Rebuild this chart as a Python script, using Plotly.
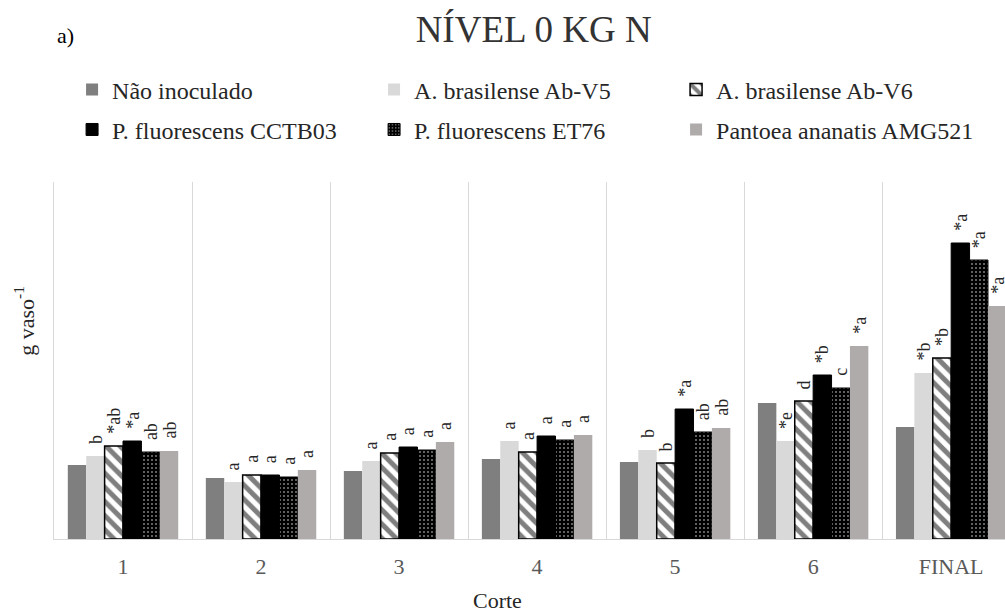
import plotly.graph_objects as go

# Cutting events (x categories)
cortes = ["1", "2", "3", "4", "5", "6", "FINAL"]

# Dry mass per treatment and cut (g vaso^-1)
nao_inoculado = [7.4, 6.1, 6.8, 8.0, 7.7, 13.6, 11.2]
ab_v5 = [8.3, 5.7, 7.8, 9.8, 8.9, 9.8, 16.6]
ab_v6 = [9.3, 6.4, 8.6, 8.7, 7.6, 13.8, 18.1]
cctb03 = [9.8, 6.4, 9.2, 10.3, 13.0, 16.4, 29.6]
et76 = [8.7, 6.2, 8.9, 9.9, 10.7, 15.1, 27.9]
amg521 = [8.8, 6.9, 9.7, 10.4, 11.1, 19.3, 23.3]

# Significance letters for each bar
lbl_nao = ["", "", "", "", "", "", ""]
lbl_v5 = ["b", "a", "a", "a", "b", "*e", "*b"]
lbl_v6 = ["*ab", "a", "a", "a", "b", "d", "*b"]
lbl_cctb03 = ["*a", "a", "a", "a", "*a", "*b", "*a"]
lbl_et76 = ["ab", "a", "a", "a", "ab", "c", "*a"]
lbl_amg521 = ["ab", "a", "a", "a", "ab", "*a", "*a"]

SERIF = "Liberation Serif"
GRID = "#d9d9d9"
BARGAP = 0.2

series = [
    ("Não inoculado", nao_inoculado, lbl_nao,
     dict(color="#7f7f7f", line=dict(width=0)), "legend"),
    ("A. brasilense Ab-V5", ab_v5, lbl_v5,
     dict(color="#d9d9d9", line=dict(width=0)), "legend"),
    ("A. brasilense Ab-V6", ab_v6, lbl_v6,
     dict(color="white", line=dict(color="black", width=1.5),
          pattern=dict(shape="\\", fgcolor="black", bgcolor="white",
                       size=10, solidity=0.5, fillmode="overlay")), "legend"),
    ("P. fluorescens CCTB03", cctb03, lbl_cctb03,
     dict(color="black", line=dict(color="black", width=1)), "legend2"),
    ("P. fluorescens ET76", et76, lbl_et76,
     dict(color="black", line=dict(color="black", width=1),
          pattern=dict(shape=".", fgcolor="white", bgcolor="black",
                       size=4, solidity=0.2, fillmode="overlay")), "legend2"),
    ("Pantoea ananatis AMG521", amg521, lbl_amg521,
     dict(color="#afabab", line=dict(width=0)), "legend2"),
]

fig = go.Figure()
n = len(series)
bar_w = (1 - BARGAP) / n
annotations = []
for j, (name, vals, lbls, marker, leg) in enumerate(series):
    fig.add_trace(go.Bar(x=cortes, y=vals, name=name, marker=marker,
                         legend=leg, hoverinfo="x+y+name"))
    for i, (v, t) in enumerate(zip(vals, lbls)):
        if not t:
            continue
        annotations.append(dict(
            x=i - (1 - BARGAP) / 2 + (j + 0.5) * bar_w, y=v,
            xref="x", yref="y", text=t, showarrow=False,
            textangle=-90, xanchor="center", yanchor="bottom", yshift=10,
            font=dict(family=SERIF, size=18, color="#262626")))

# Panel tag, axis titles
annotations += [
    dict(text="a)", xref="paper", yref="paper", x=0.0116, y=1.41,
         xanchor="center", yanchor="middle", showarrow=False,
         font=dict(family=SERIF, size=22, color="black")),
    dict(text="Corte", xref="paper", yref="paper", x=0.466, y=-0.172,
         xanchor="center", yanchor="middle", showarrow=False,
         font=dict(family=SERIF, size=22, color="#262626")),
    dict(text="g vaso<sup>-1</sup>", xref="paper", yref="paper", x=-0.031, y=0.61,
         xanchor="center", yanchor="middle", textangle=-90, showarrow=False,
         font=dict(family=SERIF, size=22, color="#262626")),
]

legend_style = dict(orientation="h", xanchor="left", yanchor="middle",
                    entrywidth=257, entrywidthmode="pixels",
                    font=dict(family=SERIF, size=24, color="#262626"),
                    bgcolor="rgba(0,0,0,0)", traceorder="normal")

fig.update_layout(
    width=1005, height=614,
    margin=dict(l=54, r=0, t=182, b=75, autoexpand=False),
    font=dict(family=SERIF, color="#262626"),
    paper_bgcolor="white", plot_bgcolor="white",
    barmode="group", bargap=BARGAP, bargroupgap=0,
    title=dict(text="NÍVEL 0 KG N", x=0.531, xref="container", xanchor="center",
               y=0.952, yref="container", yanchor="middle",
               font=dict(family=SERIF, size=37, color="#333333")),
    legend=dict(x=0.019, y=1.2577, **legend_style),
    legend2=dict(x=0.019, y=1.146, **legend_style),
    xaxis=dict(type="category", range=[-0.5, 6.39], tickson="boundaries",
               showgrid=True, gridcolor=GRID, gridwidth=1,
               showline=True, linecolor=GRID, linewidth=1, ticks="",
               ticklabelstandoff=8,
               tickfont=dict(family=SERIF, size=22, color="#595959")),
    yaxis=dict(range=[0, 35.7], showgrid=False, showticklabels=False,
               showline=True, linecolor=GRID, linewidth=1, zeroline=False, ticks=""),
    annotations=annotations,
    showlegend=True,
)

fig.write_html("out.html")
